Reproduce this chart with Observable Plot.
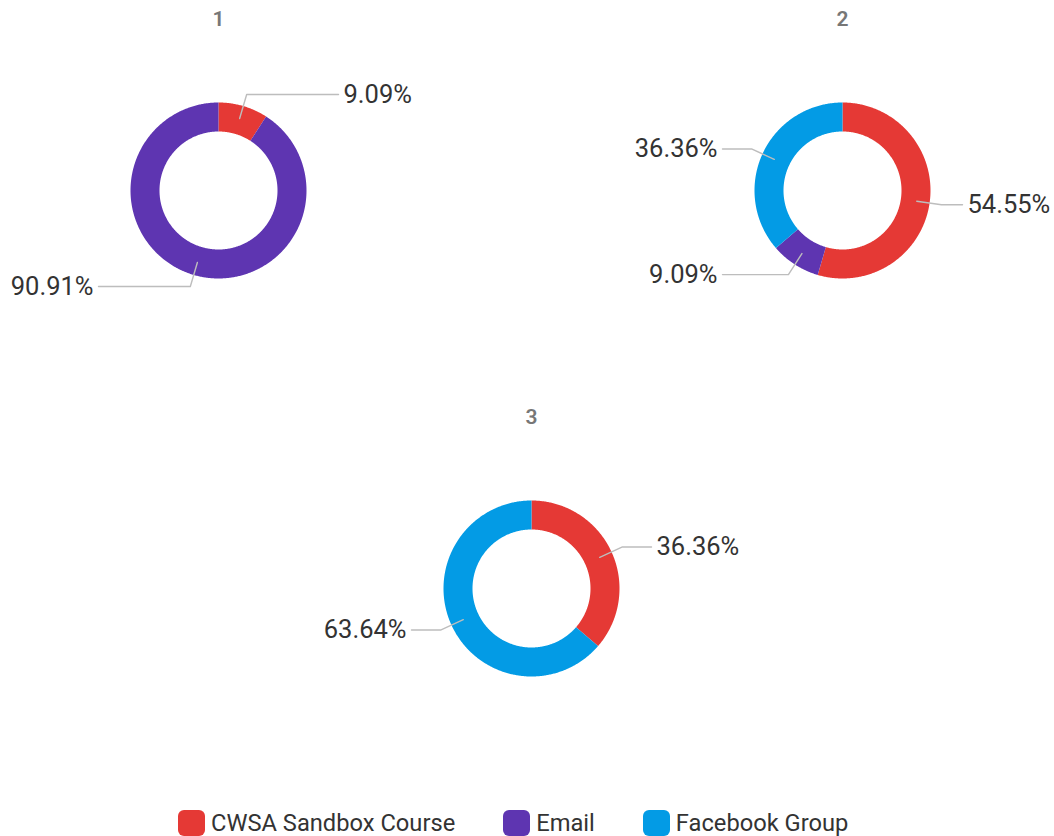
<!DOCTYPE html>
<html>
<head>
<meta charset="utf-8">
<script src="https://cdn.jsdelivr.net/npm/d3@7"></script>
<script src="https://cdn.jsdelivr.net/npm/@observablehq/plot@0.6"></script>
<style>
  html, body { margin: 0; padding: 0; background: #fff; font-family: Roboto, "Noto Sans", sans-serif; }
  #wrap { position: relative; width: 1054px; height: 836px; overflow: hidden; }
  #legend { position: absolute; left: 178px; top: 809px; display: flex; align-items: center; font-size: 23.7px; color: #333; }
  .item { display: flex; align-items: center; margin-right: 48px; }
  .sw { width: 27px; height: 26px; border-radius: 6px; margin-right: 6px; }
</style>
</head>
<body>
<div id="wrap"><div id="chart"></div><div id="legend"></div></div>
<script>
// ---- data ----
const categories = ["CWSA Sandbox Course", "Email", "Facebook Group"];
const colors = ["#E53935", "#5E35B1", "#039BE5"];
const chartTitles = ["1", "2", "3"];
const values1 = [9.09, 90.91, 0];
const values2 = [54.55, 9.09, 36.36];
const values3 = [36.36, 0, 63.64];
const seriesValues = [values1, values2, values3];

// ---- layout (pixels) ----
const W = 1054, H = 800;
const centers = [[218, 190], [842, 190], [531, 588]];
const rOuter = 88, rInner = 59, rStart = 75, rElbow = 100, lineEnd = 120, textOff = 125;

const slicePts = [], leaderPts = [], labels = [], titles = [];
seriesValues.forEach((vals, ci) => {
  const [cx, cy] = centers[ci];
  titles.push({x: cx, y: cy - 171, t: chartTitles[ci]});
  const data = categories.map((c, i) => ({cat: c, v: vals[i]})).filter(d => d.v > 0);
  const arcs = d3.pie().sort(null).value(d => d.v)(data);
  arcs.forEach((a, si) => {
    const key = ci + "-" + si;
    const n = Math.max(4, Math.ceil((a.endAngle - a.startAngle) / 0.01));
    const pt = (r, ang) => ({x: cx + r * Math.sin(ang), y: cy - r * Math.cos(ang)});
    for (let k = 0; k <= n; k++) {
      const ang = a.startAngle + (a.endAngle - a.startAngle) * k / n;
      slicePts.push({...pt(rOuter, ang), key, cat: a.data.cat});
    }
    for (let k = n; k >= 0; k--) {
      const ang = a.startAngle + (a.endAngle - a.startAngle) * k / n;
      slicePts.push({...pt(rInner, ang), key, cat: a.data.cat});
    }
    const mid = (a.startAngle + a.endAngle) / 2;
    const right = Math.sin(mid) >= 0;
    const p0 = pt(rStart, mid), p1 = pt(rElbow, mid);
    const xe = cx + (right ? lineEnd : -lineEnd);
    leaderPts.push({...p0, key}, {...p1, key}, {x: xe, y: p1.y, key});
    labels.push({x: cx + (right ? textOff : -textOff), y: p1.y, right, t: a.data.v.toFixed(2) + "%"});
  });
});

const plot = Plot.plot({
  width: W, height: H,
  margin: 0,
  x: {domain: [0, W], range: [0, W], axis: null},
  y: {domain: [0, H], range: [0, H], axis: null},
  color: {domain: categories, range: colors},
  style: {fontFamily: "Roboto, 'Noto Sans', sans-serif", background: "white"},
  marks: [
    Plot.line(slicePts, {x: "x", y: "y", z: "key", fill: "cat", stroke: "none", curve: "linear"}),
    Plot.line(leaderPts, {x: "x", y: "y", z: "key", stroke: "#bdbdbd", strokeWidth: 1.4}),
    Plot.text(labels.filter(d => d.right), {x: "x", y: "y", text: "t", textAnchor: "start", fontSize: 25.5, fill: "#333"}),
    Plot.text(labels.filter(d => !d.right), {x: "x", y: "y", text: "t", textAnchor: "end", fontSize: 25.5, fill: "#333"}),
    Plot.text(titles, {x: "x", y: "y", text: "t", fontSize: 21, fontWeight: 600, fill: "#777"})
  ]
});
document.getElementById("chart").appendChild(plot);

const legend = document.getElementById("legend");
categories.forEach((c, i) => {
  const it = document.createElement("div");
  it.className = "item";
  const sw = document.createElement("div");
  sw.className = "sw";
  sw.style.background = colors[i];
  const tx = document.createElement("span");
  tx.textContent = c;
  it.appendChild(sw); it.appendChild(tx);
  legend.appendChild(it);
});
</script>
</body>
</html>
